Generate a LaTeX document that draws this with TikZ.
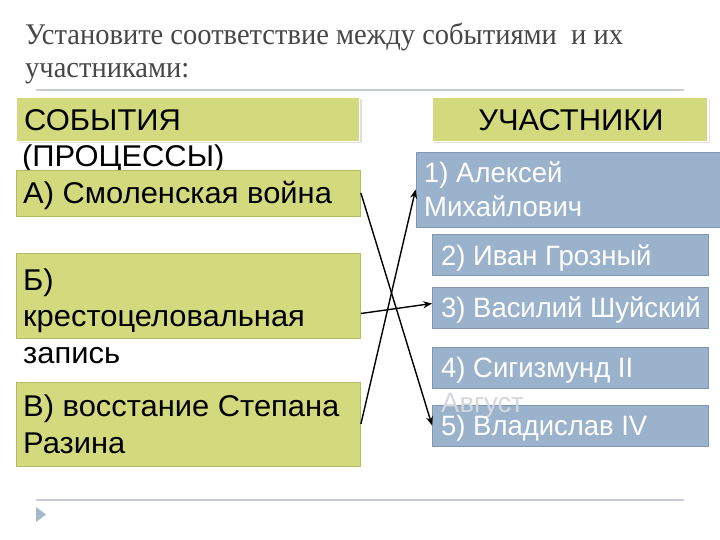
\documentclass[tikz,border=0pt]{standalone}
\usepackage{fontspec}
\setmainfont[FakeStretch=0.95]{Liberation Serif}
\newfontfamily\arialx[FakeStretch=1.03]{Liberation Sans}
\newfontfamily\arialy[FakeStretch=0.98]{Liberation Sans}
\usetikzlibrary{arrows.meta}
\definecolor{titlegrey}{HTML}{474747}
\definecolor{rulegrey}{HTML}{C9CCD4}
\definecolor{boxgreen}{HTML}{D3DA7E}
\definecolor{greenedge}{HTML}{B3BA66}
\definecolor{boxblue}{HTML}{9AB2CB}
\definecolor{blueedge}{HTML}{7F98B3}
\definecolor{markblue}{HTML}{A7B7CC}
\definecolor{ghost}{HTML}{D4D8DE}
\tikzset{
  greenbox/.style={draw=greenedge, line width=0.8pt, fill=boxgreen, inner sep=0pt},
  headbox/.style={draw=white, line width=1.2pt, fill=boxgreen, inner sep=0pt},
  bluebox/.style={draw=blueedge, line width=0.8pt, fill=boxblue, inner sep=0pt},
  lefttxt/.style={anchor=base west, inner sep=0pt, font=\arialx\fontsize{30}{37}\selectfont, text=black},
  righttxt/.style={anchor=base west, inner sep=0pt, font=\arialy\fontsize{28}{34}\selectfont, text=white},
  titletxt/.style={anchor=base west, inner sep=0pt, font=\fontsize{30}{36}\selectfont, text=titlegrey},
  link/.style={draw=black, line width=1.4pt, -{Stealth[length=9pt,width=7pt]}},
}
\begin{document}
\begin{tikzpicture}[x=1pt,y=-1pt]
\useasboundingbox (0,0) rectangle (720,540);
\fill[white] (0,0) rectangle (720,540);

% title
\node[titletxt] (t1) at (25,45) {Установите соответствие между событиями\ \ и их};
\node[titletxt] (t2) at (25,78) {участниками:};
\draw[rulegrey, line width=2pt] (36,90) -- (684,90);
\draw[rulegrey, line width=2pt] (36,500) -- (684,500);
\fill[markblue] (36,507) -- (46,514.5) -- (36,522) -- cycle;

% header boxes (with light shadow)
\fill[black!12] (19,99) rectangle (362,143);
\fill[black!12] (434,99) rectangle (710,143);
\node[headbox, minimum width=343pt, minimum height=44pt] (hs) at (188,119.5) {};
\node[headbox, minimum width=276pt, minimum height=44pt] (hu) at (570,119.5) {};
\node[lefttxt] (hs1) at (24,131) {СОБЫТИЯ};
\node[lefttxt] (hs2) at (22,167) {(ПРОЦЕССЫ)};
\node[lefttxt, anchor=base] (hu1) at (571,131) {УЧАСТНИКИ};

% event boxes
\node[greenbox, minimum width=344pt, minimum height=46pt] (a) at (188.5,193) {};
\node[greenbox, minimum width=344pt, minimum height=85pt] (b) at (188.5,295.5) {};
\node[greenbox, minimum width=344pt, minimum height=84pt] (c) at (188.5,424) {};
\node[lefttxt] (a1) at (23,204) {А) Смоленская война};
\node[lefttxt] (b1) at (23,290) {Б)};
\node[lefttxt] (b2) at (23,326) {крестоцеловальная};
\node[lefttxt] (b3) at (23,363) {запись};
\node[lefttxt] (c1) at (23,416) {В) восстание Степана};
\node[lefttxt] (c2) at (23,453) {Разина};

% participant boxes
\node[bluebox, minimum width=306pt, minimum height=75pt] (p1) at (569,189.5) {};
\node[bluebox, minimum width=276pt, minimum height=41pt] (p2) at (570.5,254.5) {};
\node[bluebox, minimum width=276pt, minimum height=41pt] (p3) at (570.5,307.5) {};
\node[bluebox, minimum width=276pt, minimum height=41pt] (p4) at (570.5,367.5) {};
\node[bluebox, minimum width=276pt, minimum height=41pt] (p5) at (570.5,425.5) {};
\node[righttxt] (p1a) at (424,183) {1) Алексей};
\node[righttxt] (p1b) at (424,217) {Михайлович};
\node[righttxt] (p2a) at (441,265) {2) Иван Грозный};
\node[righttxt] (p3a) at (441,317) {3) Василий Шуйский};
\node[righttxt] (p4a) at (441,377) {4) Сигизмунд II};
\node[righttxt, text=ghost] (p4b) at (441,412) {Август};
\node[righttxt] (p5a) at (441,435) {5) Владислав IV};

% connectors
\draw[link] (a.east) -- (p5.west);
\draw[link] ([yshift=-18pt]b.east) -- ([yshift=4pt]p3.west);
\draw[link] (c.east) -- (p1.west);
\end{tikzpicture}
\end{document}
